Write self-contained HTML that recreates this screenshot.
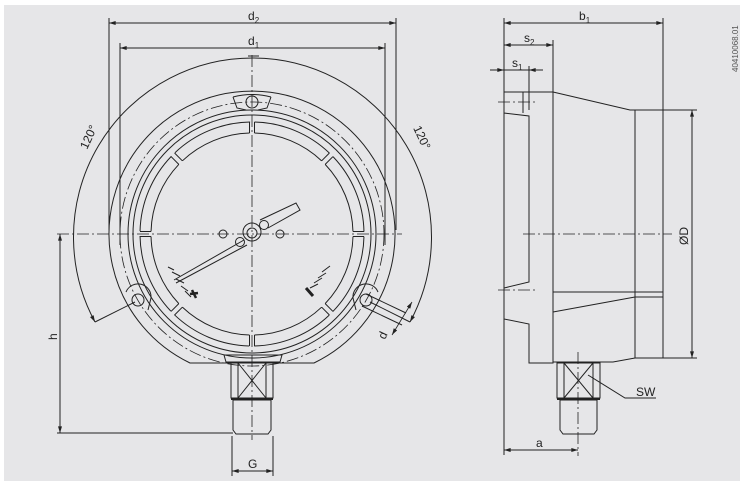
<!DOCTYPE html>
<html><head><meta charset="utf-8"><style>
html,body{margin:0;padding:0;background:#fff;width:750px;height:488px;overflow:hidden}
svg{display:block}
text{font-family:"Liberation Sans",sans-serif;fill:#222}
</style></head><body>
<svg width="750" height="488" viewBox="0 0 750 488" xmlns="http://www.w3.org/2000/svg">
<defs>
<marker id="a" viewBox="0 0 10 6" refX="10" refY="3" markerWidth="8" markerHeight="4" orient="auto-start-reverse" markerUnits="userSpaceOnUse"><path d="M0,0L10,3L0,6z" fill="#222"/></marker>
</defs>
<rect x="4" y="5" width="736" height="476" fill="#e6e6e8"/>
<g fill="none" stroke="#222" stroke-width="1">
<!-- centerlines -->
<g stroke-dasharray="12,3,2,3" stroke-width="0.8">
<line x1="57" y1="234" x2="402" y2="234"/>
<line x1="252" y1="55" x2="252" y2="440"/>
<circle cx="252" cy="234" r="132"/>
<line x1="523" y1="234" x2="672" y2="234"/>
<line x1="498" y1="102" x2="535" y2="102"/>
<line x1="498" y1="290" x2="535" y2="290"/>
<line x1="578" y1="352" x2="578" y2="456"/>
</g>
<!-- 120 arc -->
<path d="M95,322 A179,179 0 1 1 410,322" marker-start="url(#a)" marker-end="url(#a)"/>
<line x1="95" y1="322" x2="135" y2="302"/>
<line x1="410" y1="322" x2="370" y2="302"/>
<!-- flange -->
<path d="M190,363 A143,143 0 1 1 314,363 Z"/>
<!-- rings -->
<circle cx="252" cy="234" r="124"/>
<circle cx="252" cy="234" r="119"/>
<circle cx="252" cy="234" r="112" stroke-dasharray="83,5.0"  stroke-dashoffset="-2.5" transform="rotate(-90 252 234)"/>
<circle cx="252" cy="234" r="101" stroke-dasharray="74.3,5.0" stroke-dashoffset="-2.5" transform="rotate(-90 252 234)"/>
<!-- gap edges -->
<g transform="translate(252,234)">
<g id="g"><line x1="-2.5" y1="-101" x2="-2.5" y2="-112"/><line x1="2.5" y1="-101" x2="2.5" y2="-112"/></g>
<use href="#g" transform="rotate(45)"/><use href="#g" transform="rotate(90)"/><use href="#g" transform="rotate(135)"/>
<use href="#g" transform="rotate(180)"/><use href="#g" transform="rotate(225)"/><use href="#g" transform="rotate(270)"/><use href="#g" transform="rotate(315)"/>
</g>
<!-- top lug -->
<path d="M233,97 L237,108 L246,110 M271,97 L267,108 L258,110"/>
<path d="M233,97 Q252,92 271,97"/>
<circle cx="252" cy="102" r="6"/>
<!-- bolt holes -->
<circle cx="138" cy="300" r="6"/><path d="M126,292 A13,13 0 0 1 151,298 L148,310"/>
<circle cx="366" cy="300" r="6"/><path d="M378,292 A13,13 0 0 0 353,298 L356,310"/>
<!-- d dim -->
<line x1="366" y1="294" x2="406" y2="313"/><line x1="362" y1="306" x2="402" y2="325"/>
<line x1="412" y1="302" x2="392" y2="335" marker-start="url(#a)" marker-end="url(#a)" stroke-width="0.8"/>
<!-- pointer -->
<path d="M174,280 L244,240 M176,283 L247,245"/>
<path d="M260,220 L296,203 L300,210 L268,228"/>
<circle cx="252" cy="232" r="9"/><circle cx="252" cy="233" r="5"/>
<circle cx="240" cy="242" r="4.5"/><circle cx="264" cy="225" r="4.5"/>
<circle cx="223" cy="234" r="4"/><circle cx="280" cy="234" r="4"/>
<!-- ticks -->
<path d="M168,267 L174,270 M172,272 L180,276 M176,279 L184,283 M181,286 L188,291 M185,291 L191,297 M322,272 L330,266 M318,278 L326,273 M314,283 L322,278 M310,288 L318,284"/>
<path d="M192,290 L196,298 M190,294 L198,293" stroke-width="2.5"/>
<path d="M306,288 L313,296" stroke-width="3"/>
<!-- socket front -->
<path d="M224,355 L282,355 L280,362 L226,362 Z"/>
<rect x="231" y="363" width="42" height="35"/>
<line x1="238" y1="363" x2="238" y2="398"/><line x1="266" y1="363" x2="266" y2="398"/>
<line x1="238" y1="363" x2="266" y2="398"/><line x1="266" y1="363" x2="238" y2="398"/>
<path d="M233,400 L271,400 L271,430 L268,434 L236,434 L233,430 Z"/>
<line x1="231" y1="399" x2="273" y2="399" stroke-width="2"/>
<!-- dims front -->
<line x1="109" y1="18" x2="109" y2="230"/><line x1="396" y1="18" x2="396" y2="230"/>
<line x1="120" y1="43" x2="120" y2="245"/><line x1="385" y1="43" x2="385" y2="245"/>
<line x1="109" y1="23" x2="396" y2="23" marker-start="url(#a)" marker-end="url(#a)"/>
<line x1="120" y1="48" x2="385" y2="48" marker-start="url(#a)" marker-end="url(#a)"/>
<line x1="248" y1="56" x2="259" y2="56"/>
<line x1="60" y1="234" x2="60" y2="433" marker-start="url(#a)" marker-end="url(#a)"/>
<line x1="57" y1="433" x2="233" y2="433"/>
<line x1="232" y1="436" x2="232" y2="476"/><line x1="273" y1="436" x2="273" y2="476"/>
<line x1="232" y1="471" x2="273" y2="471" marker-start="url(#a)" marker-end="url(#a)"/>
<!-- side view -->
<path d="M504,92 L553,92 L553,363 L529,363 L529,324 L504,319 L504,288 L529,282 L529,116 L504,113 Z"/>
<line x1="523" y1="92" x2="523" y2="113"/>
<path d="M553,92 L630,110 L663,110 L663,358 L635,358 L613,362 L553,362"/>
<line x1="635" y1="110" x2="635" y2="358"/>
<line x1="553" y1="292" x2="663" y2="292"/>
<line x1="635" y1="297" x2="663" y2="297"/>
<line x1="553" y1="312" x2="635" y2="297"/>
<rect x="557" y="363" width="43" height="35"/>
<line x1="564" y1="363" x2="564" y2="398"/><line x1="593" y1="363" x2="593" y2="398"/>
<line x1="564" y1="363" x2="593" y2="398"/><line x1="593" y1="363" x2="564" y2="398"/>
<path d="M560,400 L597,400 L597,430 L594,434 L563,434 L560,430 Z"/>
<line x1="557" y1="399" x2="600" y2="399" stroke-width="2"/>
<path d="M588,375 L625,398 L656,398"/>
<line x1="504" y1="18" x2="504" y2="455"/><line x1="663" y1="18" x2="663" y2="110"/>
<line x1="553" y1="40" x2="553" y2="92"/><line x1="529" y1="66" x2="529" y2="110"/>
<line x1="504" y1="23" x2="663" y2="23" marker-start="url(#a)" marker-end="url(#a)"/>
<line x1="504" y1="45" x2="553" y2="45" marker-start="url(#a)" marker-end="url(#a)"/>
<line x1="490" y1="70" x2="504" y2="70" marker-end="url(#a)"/><line x1="543" y1="70" x2="529" y2="70" marker-end="url(#a)"/>
<line x1="504" y1="70" x2="529" y2="70"/>
<line x1="663" y1="110" x2="697" y2="110"/><line x1="663" y1="358" x2="697" y2="358"/>
<line x1="692" y1="110" x2="692" y2="358" marker-start="url(#a)" marker-end="url(#a)"/>
<line x1="504" y1="450" x2="578" y2="450" marker-start="url(#a)" marker-end="url(#a)"/>
</g>
<g font-size="12">
<text x="248" y="20">d<tspan font-size="8" dy="3">2</tspan></text>
<text x="248" y="45">d<tspan font-size="8" dy="3">1</tspan></text>
<text x="579" y="20">b<tspan font-size="8" dy="3">1</tspan></text>
<text x="524" y="42">s<tspan font-size="8" dy="3">2</tspan></text>
<text x="512" y="67">s<tspan font-size="8" dy="3">1</tspan></text>
<text x="248" y="468">G</text>
<text x="536" y="447">a</text>
<text x="636" y="396">SW</text>
<text transform="translate(57,340) rotate(-90)">h</text>
<text transform="translate(385,340) rotate(-65)">d</text>
<text transform="translate(688,245) rotate(-90)">ØD</text>
<text transform="translate(87,150) rotate(-65)">120°</text>
<text transform="translate(413,128) rotate(65)">120°</text>
</g>
<text transform="translate(738,72) rotate(-90)" font-size="8" style="fill:#555">40410068.01</text>
</svg>
</body></html>
